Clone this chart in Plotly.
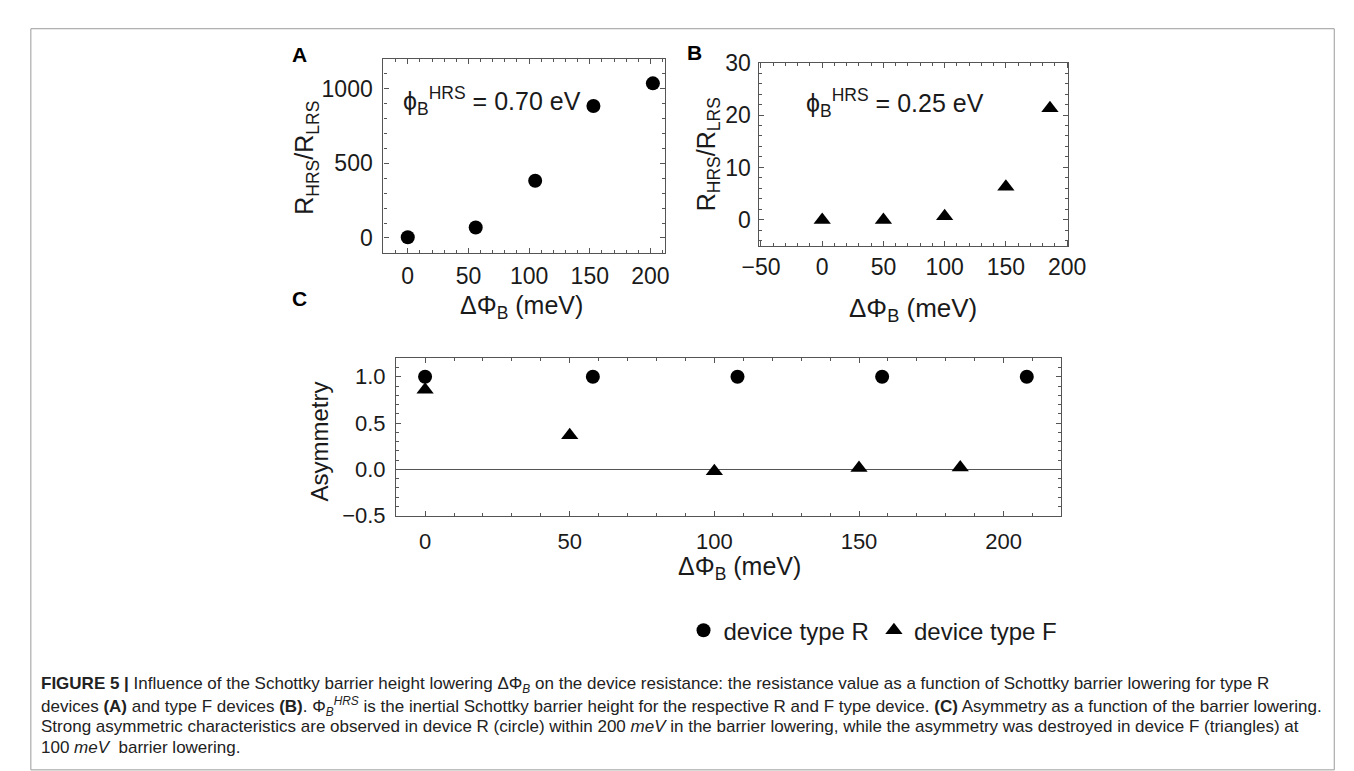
import plotly.graph_objects as go

W, H = 1354, 771

# ---------------- data ----------------
a_x = [0, 56, 105, 153, 202]
a_y = [5, 70, 383, 883, 1035]

b_x = [0, 50, 100, 150, 186]
b_y = [0.0, 0.0, 0.7, 6.3, 21.3]

c_r_x = [0, 58, 108, 158, 208]
c_r_y = [1.0, 1.0, 1.0, 1.0, 1.0]
c_f_x = [0, 50, 100, 150, 185]
c_f_y = [0.86, 0.37, -0.02, 0.015, 0.02]

a_xticks = [0, 50, 100, 150, 200]
a_yticks = [0, 500, 1000]
b_xticks = [-50, 0, 50, 100, 150, 200]
b_yticks = [0, 10, 20, 30]
c_xticks = [0, 50, 100, 150, 200]
c_yticks = [-0.5, 0.0, 0.5, 1.0]

caption_lines = [
    "<b>FIGURE 5 |</b> Influence of the Schottky barrier height lowering ΔΦ<sub><i>B</i></sub> on the device resistance: the resistance value as a function of Schottky barrier lowering for type R",
    "devices <b>(A)</b> and type F devices <b>(B)</b>. Φ<sub><i>B</i></sub><sup><i>HRS</i></sup> is the inertial Schottky barrier height for the respective R and F type device. <b>(C)</b> Asymmetry as a function of the barrier lowering.",
    "Strong asymmetric characteristics are observed in device R (circle) within 200 <i>meV</i> in the barrier lowering, while the asymmetry was destroyed in device F (triangles) at",
    "100 <i>meV</i>  barrier lowering.",
]


def px(x):
    return x / W


def py(y):
    return 1 - y / H


AXC = "#555555"
FONT = "Liberation Sans, Arial, Helvetica, sans-serif"
CAPFONT = "Liberation Sans, Arial, Helvetica, sans-serif"

fig = go.Figure()

mk_circle = dict(symbol="circle", size=14, color="black")
mk_tri = dict(symbol="triangle-up", size=15, color="black")

fig.add_trace(go.Scatter(x=a_x, y=a_y, mode="markers", marker=mk_circle,
                         xaxis="x", yaxis="y", showlegend=False))
fig.add_trace(go.Scatter(x=b_x, y=b_y, mode="markers", marker=mk_tri,
                         xaxis="x2", yaxis="y2", showlegend=False))
fig.add_trace(go.Scatter(x=c_r_x, y=c_r_y, mode="markers", marker=mk_circle,
                         xaxis="x3", yaxis="y3", name="device type R"))
fig.add_trace(go.Scatter(x=c_f_x, y=c_f_y, mode="markers", marker=mk_tri,
                         xaxis="x3", yaxis="y3", name="device type F"))


def axis(domain, rng, tickvals, minor_dtick, anchor, fontsize, tickformat=None,
         standoff=None, zeroline=False):
    d = dict(domain=domain, range=rng, tickvals=tickvals, anchor=anchor,
             showline=True, linecolor=AXC, linewidth=1.3, mirror="ticks",
             ticks="inside", ticklen=5, tickcolor=AXC, tickwidth=1,
             showgrid=False, zeroline=zeroline, zerolinecolor="#555555",
             zerolinewidth=1.2,
             tickfont=dict(family=FONT, size=fontsize, color="#1a1a1a"),
             minor=dict(dtick=minor_dtick, ticks="inside", ticklen=3,
                        tickcolor=AXC, tickwidth=1, showgrid=False))
    if tickformat:
        d["tickformat"] = tickformat
    if standoff is not None:
        d["ticklabelstandoff"] = standoff
    return d


fig.update_layout(
    width=W, height=H,
    margin=dict(l=0, r=0, t=0, b=0),
    paper_bgcolor="white", plot_bgcolor="white",
    xaxis=axis([px(368), px(657)], [-20, 212], a_xticks, 10, "y", 23, standoff=2),
    yaxis=axis([py(240), py(39)], [-100, 1200], a_yticks, 100, "x", 23, standoff=5),
    xaxis2=axis([px(753), px(1071)], [-52, 201], b_xticks, 10, "y2", 23, standoff=0),
    yaxis2=axis([py(233), py(43)], [-5, 30], b_yticks, 2, "x2", 23, standoff=2),
    xaxis3=axis([px(381), px(1064)], [-10, 220], c_xticks, 10, "y3", 22, standoff=6),
    yaxis3=axis([py(512), py(349)], [-0.5, 1.2], c_yticks, 0.1, "x3", 22,
                tickformat=".1f", standoff=5, zeroline=True),
    legend=dict(orientation="h", x=px(676), y=py(631), xanchor="left", yanchor="middle",
                font=dict(family=FONT, size=24, color="#1a1a1a"),
                bgcolor="rgba(0,0,0,0)", itemwidth=30, tracegroupgap=0),
    showlegend=True,
)

ann = []


def add(text, x, y, size, xanchor="center", yanchor="middle", angle=0, family=FONT,
        color="#1a1a1a"):
    ann.append(dict(text=text, x=px(x), y=py(y), xref="paper", yref="paper",
                    showarrow=False, xanchor=xanchor, yanchor=yanchor, textangle=angle,
                    font=dict(family=family, size=size, color=color)))


# panel letters
add("<b>A</b>", 282, 35, 21, color="black")
add("<b>B</b>", 687, 33, 21, color="black")
add("<b>C</b>", 282, 287, 21, color="black")

# in-plot annotations
add("ϕ<sub>B</sub><sup>HRS</sup> = 0.70 eV", 479, 83, 25)
add("ϕ<sub>B</sub><sup>HRS</sup> = 0.25 eV", 893, 85, 25)

# axis titles
add("R<sub>HRS</sub>/R<sub>LRS</sub>", 289, 142, 25, angle=-90)
add("R<sub>HRS</sub>/R<sub>LRS</sub>", 701, 138, 25, angle=-90)
add("Asymmetry", 302, 435, 24, angle=-90)
add("ΔΦ<sub>B</sub> (meV)", 510, 296, 25)
add("ΔΦ<sub>B</sub> (meV)", 912, 299, 26)
add("ΔΦ<sub>B</sub> (meV)", 733, 566, 25)

# caption
cap_y = [687, 709, 730, 752]
for t, yy in zip(caption_lines, cap_y):
    add(t, 14, yy, 17, xanchor="left", family=CAPFONT, color="#222222")

fig.update_layout(annotations=ann)

# thin frame around figure
fig.add_shape(type="rect", xref="paper", yref="paper",
              x0=px(6), x1=px(1344), y0=py(775), y1=py(8),
              line=dict(color="#9a9a9a", width=1), fillcolor="rgba(0,0,0,0)",
              layer="below")

fig.write_html("out.html")
